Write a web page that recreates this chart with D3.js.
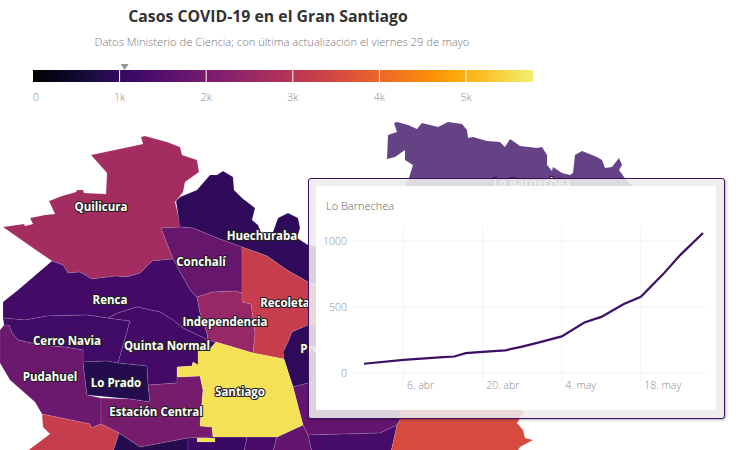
<!DOCTYPE html>
<html>
<head>
<meta charset="utf-8">
<script src="https://cdn.jsdelivr.net/npm/d3@7"></script>
<style>
  html, body { margin: 0; background: #fff; }
  svg { display: block; }
  text { font-family: "Open Sans", "Noto Sans", sans-serif; }
  .grid line { stroke: #f2f2f2; }
  .axis .domain { display: none; }
  .axis text { font-size: 10.5px; fill: #8a8a8a; font-weight: 300; font-family: "Open Sans", sans-serif; }
  .label { font-size: 11.5px; font-weight: 700; fill: #fff; stroke: #222; stroke-width: 2.2px; paint-order: stroke; stroke-linejoin: round; text-anchor: middle; }
</style>
</head>
<body>
<div id="chart"></div>
<script>
// comunas, drawn order
const comunas = ["Lo Barnechea", "Quilicura", "Huechuraba", "Conchalí", "Renca", "Recoleta", "Independencia", "Providencia", "Ñuñoa",
  "Cerro Navia", "Quinta Normal", "Pudahuel", "Lo Prado", "Estación Central", "Maipú", "Cerrillos", "Pedro Aguirre Cerda",
  "San Miguel", "San Joaquín", "Macul", "La Florida", "Santiago", "Santiago (sur)"];

// cases per comuna
const casos = [1058, 2670, 970, 1780, 1250, 3220, 2490, 970, 1700,
  1200, 1240, 1850, 830, 2000, 3220, 830, 1100,
  1350, 1700, 1300, 3530, 5590, 5590];

// outlines in map units
const contornos = [
  [[387,159],[388,135],[397,132],[394,123],[397,122],[408,125],[417,129],[422,123],[438,127],[448,122],[462,124],[467,130],[468,138],[473,137],[487,141],[500,142],[505,147],[510,139],[520,146],[537,148],[542,147],[547,155],[547,165],[552,171],[553,167],[562,173],[570,175],[573,173],[575,155],[582,151],[597,157],[602,160],[605,168],[612,167],[619,158],[622,165],[619,170],[624,177],[632,186],[630,195],[500,197],[403,192],[409,178],[413,165],[405,160],[405,150],[395,157]],
  [[3,227],[24,224],[25,226],[33,224],[30,218],[45,215],[55,214],[49,201],[62,196],[76,192],[77,190],[83,190],[84,193],[106,194],[107,173],[91,155],[143,144],[141,137],[145,136],[167,142],[180,147],[182,155],[197,160],[199,172],[185,182],[183,192],[175,202],[181,227],[161,228],[173,259],[152,261],[140,273],[127,277],[115,276],[92,279],[80,272],[68,273],[63,265],[52,261],[33,248]],
  [[176,201],[180,197],[197,190],[210,175],[217,175],[223,171],[233,177],[234,190],[242,198],[255,208],[252,220],[258,225],[263,237],[273,232],[278,218],[288,213],[298,218],[300,228],[297,238],[308,245],[335,250],[335,290],[308,282],[287,270],[267,256],[242,247],[217,238],[193,228],[180,227]],
  [[161,228],[180,227],[193,228],[217,238],[242,247],[242,293],[235,291],[213,292],[197,297],[190,290],[173,259]],
  [[3,302],[18,290],[52,261],[63,265],[68,273],[80,272],[92,279],[115,276],[127,277],[140,273],[152,261],[173,259],[190,290],[197,297],[200,313],[207,333],[208,340],[183,328],[173,320],[160,312],[137,307],[118,313],[108,318],[87,315],[47,316],[25,320],[3,318]],
  [[242,247],[267,256],[287,270],[308,282],[325,290],[328,325],[308,325],[292,332],[288,342],[283,352],[284,359],[253,353],[255,333],[251,304],[242,302],[242,293]],
  [[197,297],[213,292],[235,291],[242,293],[242,302],[251,304],[255,333],[253,353],[216,342],[208,340],[207,333],[200,313]],
  [[308,325],[328,325],[345,345],[345,375],[308,383],[293,387],[284,359],[283,352],[288,342],[292,332]],
  [[293,387],[308,383],[345,375],[400,395],[400,420],[397,425],[380,433],[308,435],[303,425]],
  [[3,318],[25,320],[47,316],[87,315],[108,318],[130,321],[118,363],[107,361],[83,362],[83,350],[65,347],[40,345],[18,340],[12,333],[9,325],[4,325]],
  [[108,318],[118,313],[137,307],[160,312],[173,320],[183,328],[208,340],[216,342],[209,350],[198,351],[198,365],[193,362],[192,366],[177,367],[177,383],[148,385],[147,366],[118,363],[130,321]],
  [[4,325],[9,325],[12,333],[18,340],[40,345],[65,347],[83,350],[83,362],[87,395],[101,398],[101,424],[91,428],[90,424],[42,414],[35,402],[10,380],[0,363],[0,330]],
  [[83,362],[107,361],[118,363],[147,366],[148,385],[150,402],[130,399],[87,395]],
  [[101,398],[130,399],[150,402],[148,385],[177,383],[177,377],[200,376],[203,390],[200,426],[212,427],[213,437],[188,438],[140,447],[119,433],[101,424]],
  [[42,414],[90,424],[91,428],[101,424],[119,433],[113,452],[26,452],[42,440],[50,434],[43,427]],
  [[119,433],[140,447],[188,438],[188,452],[113,452]],
  [[188,438],[213,437],[247,437],[244,452],[188,452]],
  [[247,437],[277,437],[273,452],[244,452]],
  [[277,437],[303,425],[308,435],[312,452],[273,452]],
  [[308,435],[380,433],[397,425],[391,452],[312,452]],
  [[400,395],[500,395],[524,412],[517,423],[523,430],[525,438],[533,440],[520,447],[517,452],[391,452],[397,425],[400,420]],
  [[216,342],[253,353],[284,359],[293,387],[303,425],[277,437],[213,437],[212,427],[200,426],[203,390],[200,376],[177,377],[177,367],[192,366],[193,362],[198,365],[198,351],[209,350]],
  [[197,438],[215,438],[215,442],[197,442]]
];

// names printed on the map and where they sit
const etiquetas = ["Lo Barnechea", "Quilicura", "Huechuraba", "Conchalí", "Renca", "Recoleta", "Independencia", "Cerro Navia", "Quinta Normal", "Pudahuel", "Lo Prado", "Santiago", "Estación Central", "Providencia"];
const etiquetasX = [532, 101, 262, 201, 110, 285, 225, 67, 167, 50, 116, 240, 156, 334];
const etiquetasY = [183, 207, 236, 262, 300, 303, 322, 341, 346, 377, 383, 392, 412, 349];

// legend
const leyendaTicks = [0, 1000, 2000, 3000, 4000, 5000];
const leyendaMax = 5774;
const colorMax = 6078;
const comunaActiva = "Lo Barnechea";

// tooltip series for Lo Barnechea
const fechas = ["2020-03-30", "2020-04-06", "2020-04-13", "2020-04-15", "2020-04-17", "2020-04-20", "2020-04-24", "2020-04-27", "2020-04-30", "2020-05-04", "2020-05-08", "2020-05-11", "2020-05-15", "2020-05-18", "2020-05-22", "2020-05-25", "2020-05-29"];
const casosComuna = [70, 100, 120, 125, 150, 160, 172, 200, 232, 277, 383, 425, 522, 577, 751, 895, 1061];
const ticksFecha = ["2020-04-06", "2020-04-20", "2020-05-04", "2020-05-18"];
const ticksCasos = [0, 500, 1000];
const mesesEs = ["ene", "feb", "mar", "abr", "may", "jun"];

const width = 744, height = 450;
const parseFecha = d3.utcParse("%Y-%m-%d");

const svg = d3.select("#chart").append("svg")
    .attr("width", width)
    .attr("height", height);

const color = d3.scaleSequential(d3.interpolateInferno).domain([0, colorMax]);

// map, geojson rings have to be closed
const path = d3.geoPath(d3.geoIdentity());
const features = comunas.map((name, i) => ({
    type: "Feature",
    properties: {name: name, casos: casos[i]},
    geometry: {type: "Polygon", coordinates: [[...contornos[i], contornos[i][0]]]}
}));

svg.append("g")
    .selectAll("path")
    .data(features)
    .join("path")
    .attr("d", path)
    .attr("fill", d => color(d.properties.casos))
    .attr("fill-opacity", d => d.properties.name === comunaActiva ? 0.77 : 1)
    .attr("stroke", d => d.properties.name === comunaActiva ? "none" : "#fff")
    .attr("stroke-opacity", 0.2)
    .attr("stroke-width", 0.6);

svg.append("g")
    .selectAll("text")
    .data(etiquetas)
    .join("text")
    .attr("class", "label")
    .attr("x", (d, i) => etiquetasX[i])
    .attr("y", (d, i) => etiquetasY[i])
    .attr("dy", "0.35em")
    .text(d => d);

// title
svg.append("text")
    .attr("x", 268).attr("y", 22)
    .attr("text-anchor", "middle")
    .style("font-size", "15.8px")
    .style("font-weight", 700)
    .style("fill", "#333")
    .text("Casos COVID-19 en el Gran Santiago");

svg.append("text")
    .attr("x", 282).attr("y", 46)
    .attr("text-anchor", "middle")
    .style("font-size", "11.2px")
    .style("font-weight", 300)
    .style("fill", "#777")
    .text("Datos Ministerio de Ciencia; con última actualización el viernes 29 de mayo");

// legend
const legendX = d3.scaleLinear().domain([0, leyendaMax]).range([33, 533]);
const grad = svg.append("defs").append("linearGradient").attr("id", "legend-grad");
grad.selectAll("stop")
    .data(d3.range(0, 1.001, 0.05))
    .join("stop")
    .attr("offset", d => d)
    .attr("stop-color", d => color(d * leyendaMax));

svg.append("rect")
    .attr("x", legendX(0)).attr("y", 70)
    .attr("width", legendX(leyendaMax) - legendX(0)).attr("height", 12)
    .attr("fill", "url(#legend-grad)");

svg.append("g").selectAll("line")
    .data(leyendaTicks.slice(1))
    .join("line")
    .attr("x1", d => legendX(d)).attr("x2", d => legendX(d))
    .attr("y1", 70).attr("y2", 82)
    .attr("stroke", "#fff");

svg.append("g").selectAll("text")
    .data(leyendaTicks)
    .join("text")
    .attr("x", d => d === 0 ? legendX(d) + 3 : legendX(d))
    .attr("y", 101)
    .attr("text-anchor", "middle")
    .style("font-size", "10.5px")
    .style("font-weight", 300)
    .style("fill", "#888")
    .text(d => d === 0 ? "0" : d / 1000 + "k");

// marker for the active comuna
const mx = legendX(casos[comunas.indexOf(comunaActiva)]);
svg.append("path")
    .attr("d", d3.line()([[mx - 4, 64], [mx + 4, 64], [mx, 70]]))
    .attr("fill", "#999");

// tooltip
const box = {x: 309, y: 179, w: 416, h: 240, pad: 8};
const tip = svg.append("g").attr("transform", `translate(${box.x},${box.y})`);

tip.append("rect")
    .attr("x", -0.5).attr("y", -0.5)
    .attr("width", box.w).attr("height", box.h)
    .attr("rx", 2.5)
    .attr("fill", "rgba(247,247,247,0.85)")
    .attr("stroke", "#3b0f63")
    .attr("stroke-width", 1)
    .style("filter", "drop-shadow(1px 1.5px 1px rgba(0,0,0,0.3))");

tip.append("rect")
    .attr("x", box.pad - 1).attr("y", box.pad - 1)
    .attr("width", box.w - box.pad * 2).attr("height", box.h - box.pad * 2)
    .attr("fill", "#fff");

tip.append("text")
    .attr("x", 17).attr("y", 31)
    .style("font-size", "11px")
    .style("font-weight", 300)
    .style("fill", "#666")
    .text(comunaActiva);

const plot = {left: 43, right: 397, top: 48, bottom: 194};
const x = d3.scaleUtc()
    .domain([parseFecha(fechas[0]), parseFecha(fechas[fechas.length - 1])])
    .range([55, 394]);
const y = d3.scaleLinear().domain([0, 1000]).range([plot.bottom, 62]);

const tickDates = ticksFecha.map(parseFecha);

tip.append("g").attr("class", "grid").selectAll("line")
    .data(tickDates)
    .join("line")
    .attr("x1", d => x(d)).attr("x2", d => x(d))
    .attr("y1", plot.top).attr("y2", plot.bottom + 9);

tip.append("g").attr("class", "grid").selectAll("line")
    .data(ticksCasos)
    .join("line")
    .attr("x1", plot.left).attr("x2", plot.right)
    .attr("y1", d => y(d)).attr("y2", d => y(d));

tip.append("g")
    .attr("class", "axis")
    .attr("transform", `translate(0,${plot.bottom})`)
    .call(d3.axisBottom(x)
        .tickValues(tickDates)
        .tickSize(0)
        .tickPadding(9)
        .tickFormat(d => d.getUTCDate() + ". " + mesesEs[d.getUTCMonth()]))
    .selectAll("text")
    .attr("text-anchor", "start")
    .attr("dx", 3);

tip.append("g")
    .attr("class", "axis")
    .attr("transform", `translate(${plot.left - 5},0)`)
    .call(d3.axisLeft(y)
        .tickValues(ticksCasos)
        .tickSize(0)
        .tickPadding(0)
        .tickFormat(d3.format("d")));

const line = d3.line()
    .x((d, i) => x(parseFecha(fechas[i])))
    .y(d => y(d));

tip.append("path")
    .datum(casosComuna)
    .attr("d", line)
    .attr("fill", "none")
    .attr("stroke", "#3b0f63")
    .attr("stroke-width", 2.2);
</script>
</body>
</html>
